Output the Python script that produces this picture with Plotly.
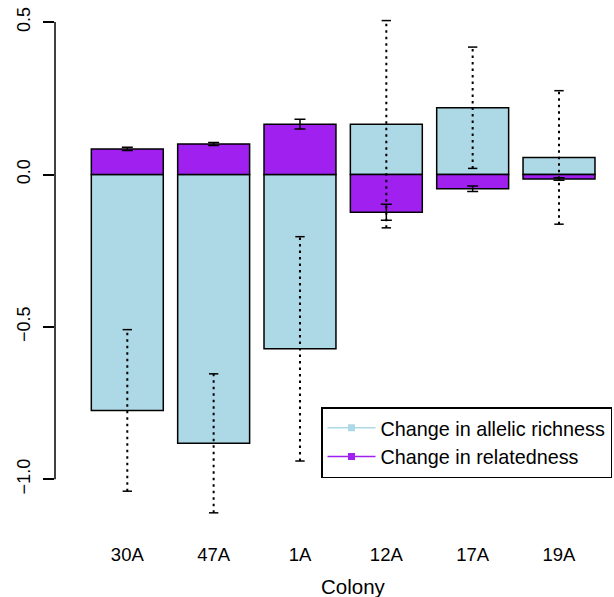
import plotly.graph_objects as go

colonies = ["30A", "47A", "1A", "12A", "17A", "19A"]
allelic = [-0.774, -0.882, -0.572, 0.165, 0.219, 0.056]
allelic_err = [0.265, 0.228, 0.368, 0.340, 0.199, 0.219]
related = [0.084, 0.100, 0.165, -0.124, -0.047, -0.015]
related_err = [0.005, 0.005, 0.016, 0.026, 0.009, 0.004]
yticks = [-1.0, -0.5, 0.0, 0.5]
ytick_text = ["\u22121.0", "\u22120.5", "0.0", "0.5"]

LIGHT = "#ADD8E6"
PURPLE = "#A020F0"
FONT = "Liberation Sans, Arial, sans-serif"

xpos = [0.7 + 1.2 * i for i in range(len(colonies))]

fig = go.Figure()
fig.add_trace(go.Bar(x=xpos, y=allelic, width=1.0, marker=dict(color=LIGHT, line=dict(color="black", width=1.5)),
                     showlegend=False, hoverinfo="skip"))
fig.add_trace(go.Bar(x=xpos, y=related, width=1.0, marker=dict(color=PURPLE, line=dict(color="black", width=1.5)),
                     showlegend=False, hoverinfo="skip",
                     error_y=dict(type="data", array=related_err, color="black", thickness=1.5, width=5.5)))

# dotted error bars for allelic richness (stems dotted, caps solid)
sx, sy, cx, cy = [], [], [], []
cap = 0.065
for xc, v, e in zip(xpos, allelic, allelic_err):
    sx += [xc, xc, None]
    sy += [v - e, v + e, None]
    cx += [xc - cap, xc + cap, None, xc - cap, xc + cap, None]
    cy += [v - e, v - e, None, v + e, v + e, None]
fig.add_trace(go.Scatter(x=sx, y=sy, mode="lines", line=dict(color="black", width=2, dash="2.5px,4px"),
                         showlegend=False, hoverinfo="skip"))
fig.add_trace(go.Scatter(x=cx, y=cy, mode="lines", line=dict(color="black", width=1.5),
                         showlegend=False, hoverinfo="skip"))

# legend entries
fig.add_trace(go.Scatter(x=[None], y=[None], mode="lines+markers", name="Change in allelic richness",
                         line=dict(color=LIGHT, width=1.5), marker=dict(color=LIGHT, symbol="square", size=7)))
fig.add_trace(go.Scatter(x=[None], y=[None], mode="lines+markers", name="Change in relatedness",
                         line=dict(color=PURPLE, width=1.5), marker=dict(color=PURPLE, symbol="square", size=7)))

L, B, T = 55, 62, 0
W, H = 614, 597
plot_h = H - B - T
plot_w = W - L
px_per_x = 71.95
x0 = 0.7 - (127.3 - L) / px_per_x
x1 = x0 + plot_w / px_per_x
px_per_y = 304.8
ytop = (174.5 - T) / px_per_y
ybot = ytop - plot_h / px_per_y

fig.add_shape(type="line", xref="paper", yref="y", x0=0, x1=0, y0=min(yticks), y1=max(yticks),
              line=dict(color="black", width=1.5))

fig.add_annotation(text="Colony", xref="paper", yref="paper", x=(353 - L) / plot_w, y=-(586 - T - plot_h) / plot_h,
                   showarrow=False, font=dict(family=FONT, size=20.5, color="black"), xanchor="center", yanchor="middle")

fig.update_layout(
    width=W, height=H,
    margin=dict(l=L, r=0, t=T, b=B, pad=0),
    plot_bgcolor="white", paper_bgcolor="white",
    barmode="overlay",
    font=dict(family=FONT, color="black"),
    xaxis=dict(range=[x0, x1], tickvals=xpos, ticktext=colonies, showgrid=False, zeroline=False,
               showline=False, ticks="", tickfont=dict(size=18.5), ticklabelstandoff=6),
    yaxis=dict(range=[ybot, ytop], tickvals=yticks, ticktext=ytick_text, showgrid=False, zeroline=False,
               showline=False, ticks="outside", ticklen=11, tickwidth=1.5, tickcolor="black",
               tickangle=-90, tickfont=dict(size=18), ticklabelstandoff=6),
    legend=dict(x=(321 - L) / plot_w, y=1 - (407 - T) / plot_h, xanchor="left", yanchor="top",
                bordercolor="black", borderwidth=1.5, bgcolor="white", itemwidth=48,
                font=dict(size=19.8, family=FONT)),
)

fig.write_html("out.html")
